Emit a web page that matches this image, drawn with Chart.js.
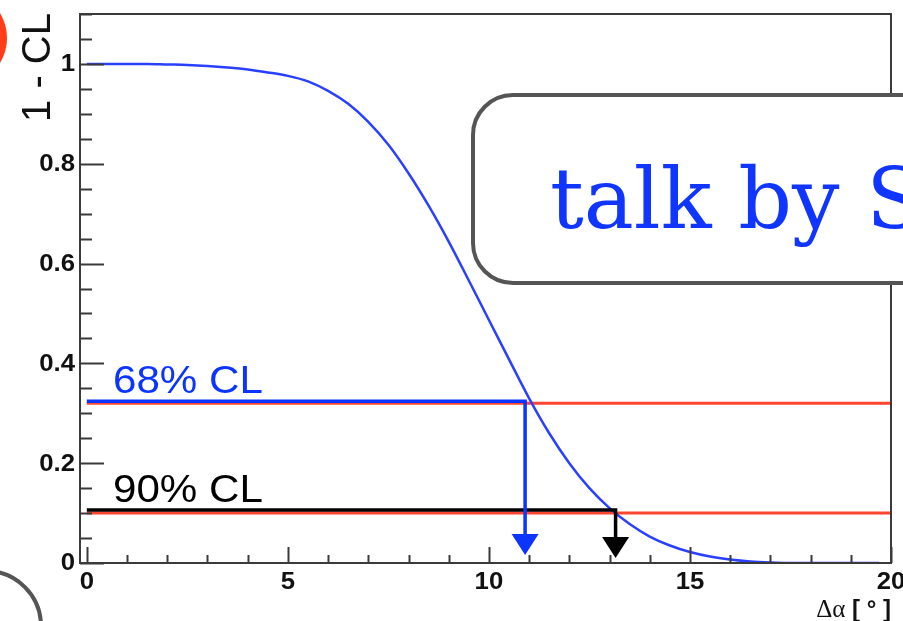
<!DOCTYPE html>
<html>
<head>
<meta charset="utf-8">
<script src="https://cdn.jsdelivr.net/npm/chart.js@4.4.1/dist/chart.umd.min.js"></script>
<style>
  html, body { margin: 0; padding: 0; background: #fff; }
  #wrap { width: 903px; height: 621px; position: relative; }
</style>
</head>
<body>
<div id="wrap"><canvas id="cl"></canvas></div>
<script>
// 1 - CL versus the angle difference, sampled every half degree
const dAlpha = [0, 0.5, 1, 1.5, 2, 2.5, 3, 3.5, 4, 4.5, 5, 5.5, 6, 6.5, 7, 7.5, 8, 8.5, 9, 9.5,
    10, 10.5, 11, 11.5, 12, 12.5, 13, 13.5, 14, 14.5, 15, 15.5, 16, 16.5, 17, 17.5, 18, 18.5, 19, 19.5, 19.7];
const oneMinusCL = [1.000, 1.000, 1.000, 1.000, 0.999, 0.998, 0.996, 0.993, 0.989, 0.983, 0.976, 0.965, 0.946, 0.920, 0.884, 0.838, 0.781, 0.716, 0.644, 0.566,
    0.487, 0.408, 0.330, 0.260, 0.200, 0.150, 0.110, 0.078, 0.053, 0.035, 0.022, 0.013, 0.007, 0.003, 0.001, 0, 0, 0, 0, 0, 0];

// confidence levels: reference level, drawn marker level, resulting limit
const clNames = ['68% CL', '90% CL'];
const clLevels = [0.32, 0.10];
const clMarks = [0.324, 0.106];
const clLimits = [10.9, 13.15];
const clColors = ['#0b34ff', '#000000'];
const arrowTop = [0.058, 0.052];
const arrowTip = [0.016, 0.010];

const xMajor = [0, 5, 10, 15, 20];
const yMajor = [0, 0.2, 0.4, 0.6, 0.8, 1];
const yLabels = ['0', '0.2', '0.4', '0.6', '0.8', '1'];

const pts = (xs, ys) => xs.map((x, i) => ({ x: x, y: ys[i] }));

const datasets = [];
clLevels.forEach(lv => {
    datasets.push({ data: [{ x: 0, y: lv }, { x: 20, y: lv }], borderColor: '#ff4530', borderWidth: 3, pointRadius: 0, order: 3 });
});
datasets.push({ data: pts(dAlpha, oneMinusCL), borderColor: '#2a40ff', borderWidth: 2.5, pointRadius: 0, cubicInterpolationMode: 'monotone', order: 2 });
clMarks.forEach((m, i) => {
    datasets.push({
        data: [{ x: 0, y: m }, { x: clLimits[i], y: m }, { x: clLimits[i], y: arrowTop[i] }],
        borderColor: clColors[i], borderWidth: 3.5, pointRadius: 0, borderJoinStyle: 'miter', order: 1
    });
});

function stretchText(ctx, str, x, y, font, color, align, sx) {
    ctx.save();
    ctx.font = font;
    ctx.fillStyle = color;
    ctx.textAlign = align;
    ctx.translate(x, y);
    ctx.scale(sx, 1);
    ctx.fillText(str, 0, 0);
    ctx.restore();
}

const axesPlugin = {
    id: 'axes',
    afterDatasetsDraw(chart) {
        const { ctx, chartArea: a, scales: { x, y } } = chart;
        ctx.save();

        // arrow heads at the limits
        clLimits.forEach((lim, i) => {
            const px = x.getPixelForValue(lim);
            const top = y.getPixelForValue(arrowTop[i]);
            const tip = y.getPixelForValue(arrowTip[i]);
            ctx.fillStyle = clColors[i];
            ctx.beginPath();
            ctx.moveTo(px - 13.5, top);
            ctx.lineTo(px + 13.5, top);
            ctx.lineTo(px, tip);
            ctx.closePath();
            ctx.fill();
        });

        // ticks, inside the frame
        ctx.strokeStyle = '#3a3a3a';
        ctx.lineWidth = 2;
        ctx.beginPath();
        for (let v = 0; v <= 1.1001; v += 0.05) {
            const py = Math.round(y.getPixelForValue(v)) + 0.5;
            const major = Math.abs(v / 0.2 - Math.round(v / 0.2)) < 1e-6;
            ctx.moveTo(a.left, py);
            ctx.lineTo(a.left + (major ? 24 : 12), py);
        }
        for (let v = 0; v <= 20; v += 1) {
            const px = Math.round(x.getPixelForValue(v)) + 0.5;
            ctx.moveTo(px, a.bottom);
            ctx.lineTo(px, a.bottom - (v % 5 === 0 ? 16 : 8));
        }
        ctx.stroke();

        // frame
        ctx.strokeRect(a.left, a.top, a.right - a.left, a.bottom - a.top);

        // tick labels
        const tickFont = 'bold 23px "Liberation Sans"';
        ctx.textBaseline = 'middle';
        yMajor.forEach((v, i) => {
            stretchText(ctx, yLabels[i], a.left - 5, y.getPixelForValue(v) + 1, tickFont, '#111', 'right', 1.12);
        });
        ctx.textBaseline = 'top';
        xMajor.forEach(v => {
            stretchText(ctx, String(v), x.getPixelForValue(v), a.bottom + 8, tickFont, '#111', 'center', 1.12);
        });

        // axis titles
        ctx.textBaseline = 'alphabetic';
        ctx.save();
        ctx.translate(50, 13);
        ctx.rotate(-Math.PI / 2);
        ctx.font = '40px "Liberation Sans"';
        ctx.fillStyle = '#111';
        ctx.textAlign = 'right';
        ctx.fillText('1 - CL', 0, 0);
        ctx.restore();

        ctx.font = 'bold 24px "Liberation Sans"';
        const tail = ' [ \u00b0 ]';
        const tw = ctx.measureText(tail).width;
        stretchText(ctx, tail, a.right, 617, 'bold 24px "Liberation Sans"', '#111', 'right', 1);
        stretchText(ctx, '\u0394\u03b1', a.right - tw, 617, '25px "Liberation Serif"', '#111', 'right', 1);

        // level captions
        clNames.forEach((name, i) => {
            stretchText(ctx, name, x.getPixelForValue(0.65), y.getPixelForValue(clMarks[i] + 0.017), '39px "Liberation Sans"', clColors[i], 'left', 1.08);
        });
        ctx.restore();
    },
    afterDraw(chart) {
        const { ctx } = chart;
        ctx.save();
        // callout box
        ctx.beginPath();
        ctx.roundRect(473, 95, 600, 188, 40);
        ctx.fillStyle = '#fff';
        ctx.fill();
        ctx.lineWidth = 4;
        ctx.strokeStyle = '#555';
        ctx.stroke();
        ctx.font = '84px "DejaVu Serif"';
        ctx.fillStyle = '#1035ff';
        ctx.textAlign = 'left';
        ctx.fillText('talk by S', 550, 228);

        // slide decorations
        ctx.beginPath();
        ctx.arc(-41, 38, 48, 0, Math.PI * 2);
        ctx.fillStyle = '#ff3d1a';
        ctx.fill();
        ctx.beginPath();
        ctx.arc(-14, 626, 55, 0, Math.PI * 2);
        ctx.strokeStyle = '#555';
        ctx.lineWidth = 4;
        ctx.stroke();
        ctx.restore();
    }
};

new Chart(document.getElementById('cl'), {
    type: 'line',
    data: { datasets: datasets },
    options: {
        responsive: true,
        maintainAspectRatio: false,
        animation: false,
        layout: { padding: { left: 80, right: 12, top: 14, bottom: 58 } },
        plugins: { legend: { display: false }, tooltip: { enabled: false } },
        scales: {
            x: { type: 'linear', min: -0.17, max: 20, display: false },
            y: { type: 'linear', min: 0, max: 1.1, display: false }
        }
    },
    plugins: [axesPlugin]
});
</script>
</body>
</html>
